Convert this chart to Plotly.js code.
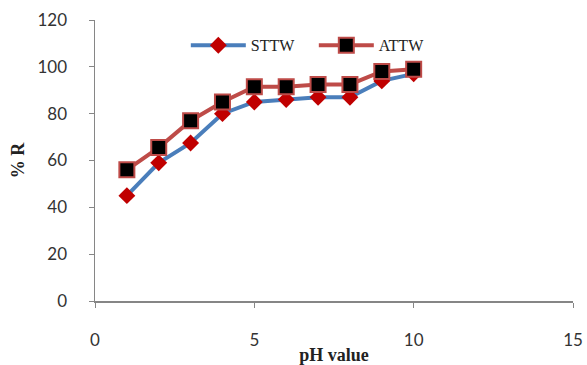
<!DOCTYPE html>
<html><head><meta charset="utf-8">
<script src="https://cdn.plot.ly/plotly-3.0.1.min.js"></script>
<style>html,body{margin:0;padding:0;background:#fff}#chart{width:587px;height:365px}</style>
</head><body><div id="chart"></div>
<script>
const pH = [1,2,3,4,5,6,7,8,9,10];
const sttw = [45,59,67.5,80,85,86,87,87,94,97];
const attw = [56,65.5,77,85,91.5,91.5,92.5,92.5,98,99];
const xTicks = [0,5,10,15];
const yTicks = [0,20,40,60,80,100,120];

const traces = [
  {x: pH, y: sttw, name: 'STTW', mode: 'lines+markers',
   line: {color: '#4a7ebb', width: 4},
   marker: {symbol: 'diamond', size: 13, color: '#c00000', line: {color: '#c00000', width: 0}}},
  {x: pH, y: attw, name: 'ATTW', mode: 'lines+markers',
   line: {color: '#be4b48', width: 4},
   marker: {symbol: 'square', size: 15, color: '#000000', line: {color: '#be4b48', width: 2}}}
];
const tickFont = {family: 'Lato, "Open Sans", sans-serif', size: 17, color: '#333'};
const layout = {
  width: 587, height: 365,
  margin: {l: 95, r: 14, t: 20, b: 64},
  paper_bgcolor: '#fff', plot_bgcolor: '#fff',
  showlegend: true,
  legend: {orientation: 'h', x: 0.19, y: 0.91, xanchor: 'left', yanchor: 'middle',
    font: {family: '"Liberation Serif", "DejaVu Serif", serif', size: 16, color: '#222'},
    bgcolor: 'rgba(0,0,0,0)', itemwidth: 55, entrywidth: 58, entrywidthmode: 'pixels'},
  xaxis: {range: [0, 15], tickvals: xTicks, ticktext: xTicks.map(String),
    showgrid: false, zeroline: false, showline: true, linecolor: '#868686', linewidth: 1.5,
    ticks: 'outside', ticklen: 5, tickcolor: '#868686', ticklabelstandoff: 18,
    tickfont: tickFont,
    title: {text: '<b>pH value</b>', standoff: 0,
      font: {family: '"Liberation Serif", serif', size: 18, color: '#222'}}},
  yaxis: {range: [0, 120], tickvals: yTicks, ticktext: yTicks.map(String),
    showgrid: false, zeroline: false, showline: true, linecolor: '#868686', linewidth: 1.5,
    ticks: 'outside', ticklen: 5, tickcolor: '#868686', ticklabelstandoff: 18,
    tickfont: tickFont,
    title: {text: '<b>% R</b>', standoff: 8,
      font: {family: '"Liberation Serif", serif', size: 18, color: '#222'}}}
};
Plotly.newPlot('chart', traces, layout, {displayModeBar: false, staticPlot: true});
</script></body></html>
